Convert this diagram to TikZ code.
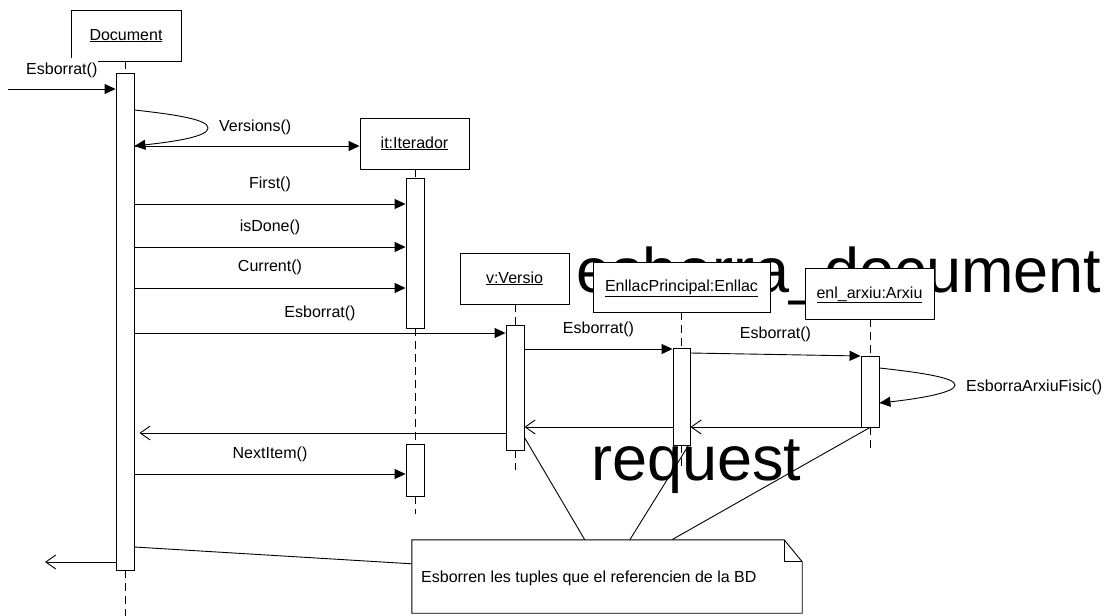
\documentclass[tikz,border=0pt]{standalone}
\usepackage{fontspec}
\setmainfont{Liberation Sans}
\usetikzlibrary{arrows.meta,calc}
\begin{document}
\begin{tikzpicture}[x=1pt,y=-1pt,
  every node/.style={font=\fontsize{16}{19}\selectfont},
  obj/.style={draw, fill=white, line width=0.9pt, inner sep=0pt, text height=12pt, text depth=3pt},
  bar/.style={draw, fill=white, line width=0.9pt, minimum width=18pt, inner sep=0pt},
  life/.style={line width=0.9pt, dash pattern=on 8pt off 5pt},
  msg/.style={line width=0.9pt, -{Triangle[length=11pt,width=10pt]}},
  ret/.style={line width=0.9pt, -{Straight Barb[length=10pt,width=14pt]}},
  lbl/.style={midway, anchor=base, yshift=16pt, inner sep=0pt},
  big/.style={font=\fontsize{63}{70}\selectfont, inner sep=0pt, anchor=base west},
  plain/.style={anchor=base west, inner sep=0pt},
  link/.style={line width=0.9pt}
]
\useasboundingbox (0,0) rectangle (1109,616);

% large background texts
\node[big] (title) at (576,292) {esborra\_document};
\node[big] (req) at (591,480) {request};

% object boxes
\node[obj, minimum width=110pt, minimum height=51pt] (docbox) at (126,35.5) {\underline{Document}};
\node[obj, minimum width=109pt, minimum height=51pt] (itbox) at (414.5,143.5) {\underline{it:Iterador}};
\node[obj, minimum width=109pt, minimum height=51pt] (vbox) at (514.5,278.5) {\underline{v:Versio}};
\node[obj, minimum width=177pt, minimum height=50pt] (enbox) at (681.5,287) {\underline{EnllacPrincipal:Enllac}};
\node[obj, minimum width=129pt, minimum height=51pt] (arbox) at (869.5,293.5) {\underline{enl\_arxiu:Arxiu}};

% activation bars
\node[bar, minimum height=497pt] (docbar) at (125,321.5) {};
\node[bar, minimum height=150pt] (itbar1) at (415,253) {};
\node[bar, minimum height=52pt] (itbar2) at (415,470) {};
\node[bar, minimum height=125pt] (vbar) at (515,387.5) {};
\node[bar, minimum height=97pt, minimum width=17pt] (enbar) at (681.5,396.5) {};
\node[bar, minimum height=71pt] (arbar) at (870,391.5) {};

% lifeline ends
\coordinate (docend) at (125,616);
\coordinate (itend) at (415,514);
\coordinate (vend) at (515,470);
\coordinate (enend) at (681.5,468);
\coordinate (arend) at (870,450);

% lifelines
\draw[life] (docbar.north |- docbox.south) -- (docbar.north);
\draw[life] (docbar.south) -- (docend);
\draw[life] (itbar1.north |- itbox.south) -- (itbar1.north);
\draw[life] (itbar1.south) -- (itbar2.north);
\draw[life] (itbar2.south) -- (itend);
\draw[life] (vbar.north |- vbox.south) -- (vbar.north);
\draw[life] (vbar.south) -- (vend);
\draw[life] (enbar.north |- enbox.south) -- (enbar.north);
\draw[life] (enbar.south) -- (enend);
\draw[life] (arbar.north |- arbox.south) -- (arbar.north);
\draw[life] (arbar.south) -- (arend);

% row coordinates
\coordinate (found) at (8,89);
\coordinate (v1) at (0,110);
\coordinate (v2) at (0,146);
\coordinate (m1) at (0,204);
\coordinate (m2) at (0,247);
\coordinate (m3) at (0,288);
\coordinate (m4) at (0,333);
\coordinate (m5) at (0,349);
\coordinate (m6a) at (0,353);
\coordinate (m6b) at (0,356);
\coordinate (s1) at (0,368);
\coordinate (s2) at (0,403);
\coordinate (r1) at (0,427);
\coordinate (r2) at (0,433);
\coordinate (m7) at (0,474);
\coordinate (n1) at (0,547);
\coordinate (out) at (45,562);

% found message
\draw[msg] (found) -- node[lbl, yshift=-1pt, fill=white, inner xsep=1pt, inner ysep=4pt, text height=12pt, text depth=3pt] (lfound) {Esborrat()} (docbar.west |- found);

% self message Versions()
\draw[msg] (docbar.east |- v1) .. controls (180,115) and (208,120) .. (208,128)
  .. controls (208,136) and (180,141) .. (docbar.east |- v2);
\node[plain] (lver) at (219,131) {Versions()};

% create iterator
\draw[msg] (docbar.east |- v2) -- (itbox.west |- v2);

% calls to iterator
\draw[msg] (docbar.east |- m1) -- node[lbl] (lfirst) {First()} (itbar1.west |- m1);
\draw[msg] (docbar.east |- m2) -- node[lbl] (ldone) {isDone()} (itbar1.west |- m2);
\draw[msg] (docbar.east |- m3) -- node[lbl, yshift=1pt] (lcur) {Current()} (itbar1.west |- m3);

% Esborrat chain
\draw[msg] (docbar.east |- m4) -- node[lbl] (lesb1) {Esborrat()} (vbar.west |- m4);
\draw[msg] (vbar.east |- m5) -- node[lbl] (lesb2) {Esborrat()} (enbar.west |- m5);
\draw[msg] (enbar.east |- m6a) -- node[lbl] (lesb3) {Esborrat()} (arbar.west |- m6b);

% self message EsborraArxiuFisic()
\draw[msg] (arbar.east |- s1) .. controls (925,373) and (955,378) .. (955,385)
  .. controls (955,392) and (925,398) .. (arbar.east |- s2);
\node[plain] (lfis) at (966,391) {EsborraArxiuFisic()};

% returns
\draw[ret] (arbar.west |- r1) -- (enbar.east |- r1);
\draw[ret] (enbar.west |- r1) -- (vbar.east |- r1);
\draw[ret, shorten >=5pt] (vbar.west |- r2) -- (docbar.east |- r2);

% NextItem
\draw[msg] (docbar.east |- m7) -- node[lbl] (lnext) {NextItem()} (itbar2.west |- m7);

% final return
\draw[ret] (docbar.west |- out) -- (out);

% note
\node[minimum width=390pt, minimum height=73pt, inner sep=0pt] (note) at (607,576.5) {};
\draw[link] (docbar.east |- n1) -- ($(note.north west)+(0,24)$);
\draw[link] ($(vbar.south east)+(0,-13)$) -- ($(note.north west)+(173,0)$);
\draw[link] ($(enbar.south east)+(-2,0)$) -- ($(note.north west)+(218,0)$);
\draw[link] (arbar.south) -- ($(note.north west)+(260,0)$);
\draw[link, fill=white] (note.north west) -- ($(note.north east)+(-18,0)$) -- ($(note.north east)+(0,22)$)
  -- (note.south east) -- (note.south west) -- cycle;
\draw[link] ($(note.north east)+(-18,0)$) -- ($(note.north east)+(-18,22)$) -- ($(note.north east)+(0,22)$);
\node[plain] (ntext) at (421,582) {Esborren les tuples que el referencien de la BD};
\end{tikzpicture}
\end{document}
